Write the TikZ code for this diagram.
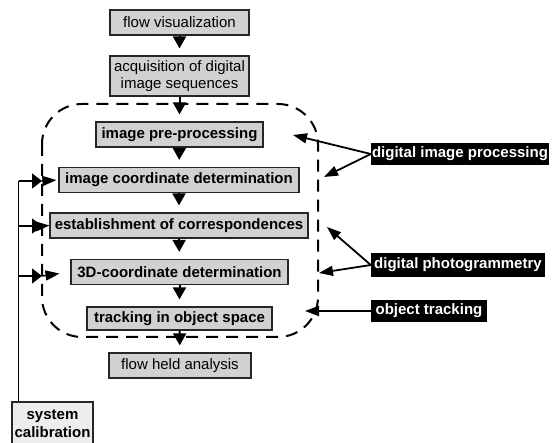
\documentclass[tikz,border=0pt]{standalone}
\usepackage{fontspec}
\setmainfont{Liberation Sans}
\usetikzlibrary{arrows.meta}

\tikzset{
	stage/.style={draw=black!85, line width=1.2pt, fill=black!18, inner sep=0pt, minimum height=25pt, align=center, font=\fontsize{15}{17}\selectfont},
	task/.style={stage, font=\fontsize{15}{17}\selectfont\bfseries},
	field/.style={fill=black, text=white, inner sep=0pt, minimum height=22pt, font=\fontsize{15}{17}\selectfont\bfseries},
	flow/.style={line width=2pt, -{Triangle[length=12pt,width=13pt]}, shorten >=7pt},
	gatefeed/.style={line width=1.5pt, -{Triangle[length=10pt,width=15pt]}},
	feed/.style={line width=1.5pt, -{Triangle[length=14pt,width=10pt]}},
	link/.style={line width=1.8pt, -{Triangle[length=14pt,width=10pt]}}
}

\begin{document}
\begin{tikzpicture}[x=1pt, y=-1pt]
			%%%%% START %%%%%
			\useasboundingbox (0, 0) rectangle (557, 443);
			
			% region of the image analysis
			\draw[line width=2pt, dash pattern=on 12pt off 8pt, rounded corners=40pt] (42, 104) rectangle (318, 337);
			
			\node[stage, minimum width=139pt] (flowvis) at (179.5, 22.5) {flow visualization};
			\node[stage, minimum width=139pt, minimum height=40pt] (acq) at (179.5, 76) {acquisition of digital\\image sequences};
			\node[task, minimum width=167pt] (pre) at (179.5, 134.5) {image pre-processing};
			\node[task, minimum width=240pt] (coord) at (179, 180) {image coordinate determination};
			\node[task, minimum width=258pt] (corr) at (179, 225.5) {establishment of correspondences};
			\node[task, minimum width=217pt] (threed) at (179.5, 272) {3D-coordinate determination};
			\node[task, minimum width=185pt, minimum height=23pt] (track) at (179.5, 318.5) {tracking in object space};
			\node[stage, minimum width=142pt] (held) at (180, 365.5) {flow held analysis};
			\node[task, fill=black!7, minimum width=81pt, minimum height=44pt, font=\fontsize{15}{18}\selectfont\bfseries] (syscal) at (52.5, 424) {system\\calibration};
			
			\draw[flow] (flowvis) -- (acq);
			\draw[flow] (acq) -- (pre);
			\draw[flow] (pre) -- (coord);
			\draw[flow] (coord) -- (corr);
			\draw[flow] (corr) -- (threed);
			\draw[flow] (threed) -- (track);
			\draw[flow] (track) -- (held);
			
			% calibration feeds
			\coordinate (tapA) at (18.5, 181);
			\coordinate (tapB) at (18.5, 226);
			\coordinate (tapC) at (18.5, 276);
			\coordinate (gateA) at (42, 181);
			\coordinate (gateB) at (42, 226);
			\coordinate (gateC) at (42, 276);
			\draw[line width=1.5pt] (tapC |- syscal.north) -- (tapA);
			\draw[gatefeed] (tapA) -- (gateA);
			\draw[feed, shorten >=2pt] (gateA) -- (coord.west);
			\draw[gatefeed] (tapB) -- (gateB);
			\draw[feed] (gateB) -- (corr.west);
			\draw[gatefeed] (tapC) -- (gateC);
			\draw[feed, shorten >=11pt] (gateC) -- (threed.west);
			
			% fields of work
			\node[field, minimum width=178pt] (dip) at (460, 154) {digital image processing};
			\node[field, minimum width=174pt, minimum height=24pt] (dp) at (458, 265) {digital photogrammetry};
			\node[field, minimum width=116pt] (ot) at (429, 311) {object tracking};
			
			\coordinate (pA) at (293, 135);
			\coordinate (pB) at (324, 177);
			\coordinate (pC) at (327, 227);
			\coordinate (pD) at (319, 273);
			\coordinate (pE) at (305, 311);
			\draw[link] (dip.west) -- (pA);
			\draw[link] (dip.west) -- (pB);
			\draw[link] (dp.west) -- (pC);
			\draw[link] (dp.west) -- (pD);
			\draw[link] (ot.west) -- (pE);
			%%%%% END %%%%%
\end{tikzpicture}
\end{document}
